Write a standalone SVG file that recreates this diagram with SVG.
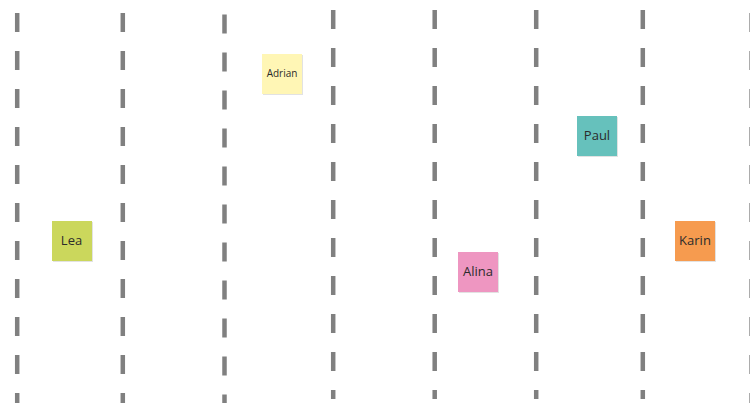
<svg xmlns="http://www.w3.org/2000/svg" width="750" height="403" viewBox="0 0 750 403">
<style>
.lane{stroke:#808080;stroke-width:4.5;stroke-dasharray:19 19;fill:none}
.sh{fill:#e2e2e2}
.t{font-family:"Open Sans","Noto Sans",sans-serif;font-size:13px;fill:#2b2b2b;text-anchor:middle;dominant-baseline:central}
.ts{font-size:10px}
</style>
<rect width="750" height="403" fill="#ffffff"/>
<g id="lanes">
<line class="lane" x1="17.2" y1="13" x2="17.2" y2="403"/>
<line class="lane" x1="122.8" y1="13" x2="122.8" y2="403"/>
<line class="lane" x1="224.5" y1="14.5" x2="224.5" y2="403"/>
<line class="lane" x1="333.2" y1="10" x2="333.2" y2="399"/>
<line class="lane" x1="434.7" y1="10" x2="434.7" y2="399"/>
<line class="lane" x1="536.2" y1="10" x2="536.2" y2="399"/>
<line class="lane" x1="642.8" y1="10" x2="642.8" y2="399"/>
<line class="lane" x1="751.6" y1="13" x2="751.6" y2="403"/>
</g>
<g id="adrian">
<rect class="sh" x="263" y="55" width="40" height="40"/>
<rect x="262" y="54" width="40" height="40" fill="#fff6b5"/>
<text class="t ts" x="282" y="73">Adrian</text>
</g>
<g id="lea">
<rect class="sh" x="53" y="222" width="40" height="40"/>
<rect x="52" y="221" width="40" height="40" fill="#cbd75c"/>
<text class="t" x="71.5" y="240">Lea</text>
</g>
<g id="alina">
<rect class="sh" x="459" y="253" width="40" height="40"/>
<rect x="458" y="252" width="40" height="40" fill="#ee96c1"/>
<text class="t" x="478" y="271">Alina</text>
</g>
<g id="paul">
<rect class="sh" x="578" y="117" width="40" height="40"/>
<rect x="577" y="116" width="40" height="40" fill="#66c1bc"/>
<text class="t" x="597" y="135">Paul</text>
</g>
<g id="karin">
<rect class="sh" x="676" y="222" width="40" height="40"/>
<rect x="675" y="221" width="40" height="40" fill="#f69b4f"/>
<text class="t" x="695" y="240">Karin</text>
</g>
</svg>
